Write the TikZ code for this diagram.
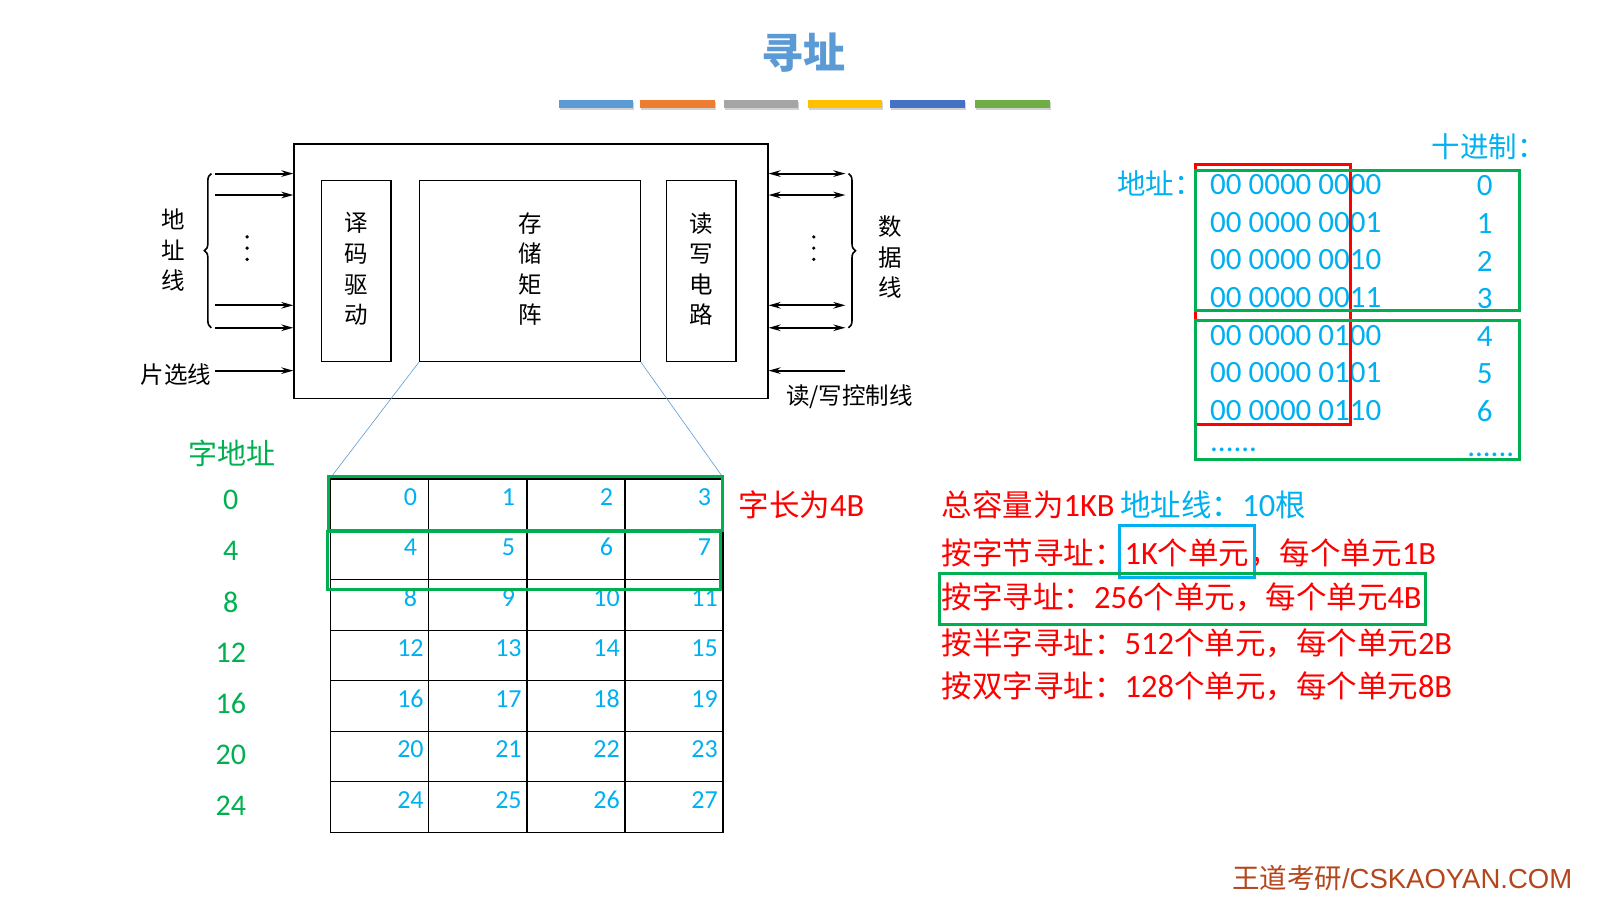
\documentclass[tikz,border=0pt]{standalone}
\usepackage{fontspec}
\setmainfont{Carlito}
\newfontfamily\cjk{Noto Sans CJK SC}
\newfontfamily\arialf{Liberation Sans}
\newfontfamily\calib{Carlito}
\usetikzlibrary{positioning,arrows.meta,fit,decorations.pathreplacing,shadows}
\definecolor{titleblue}{HTML}{5B9BD5}
\definecolor{barorange}{HTML}{ED7D31}
\definecolor{bargray}{HTML}{A5A5A5}
\definecolor{bargold}{HTML}{FFC000}
\definecolor{barblue}{HTML}{4472C4}
\definecolor{bargreen}{HTML}{70AD47}
\definecolor{sky}{HTML}{00B0F0}
\definecolor{leaf}{HTML}{00B050}
\definecolor{hot}{HTML}{FF0000}
\definecolor{brand}{HTML}{B5461B}
\newcommand\lat[1]{{\calib\fontsize{32.5}{32.5}\selectfont #1}}

\begin{document}
\begin{tikzpicture}[x=1.0211pt, y=-1.0211pt,
  blk/.style    = {draw, line width=1.4pt, inner sep=0pt},
  sig/.style    = {-{Stealth[length=12pt,width=6.5pt]}, line width=2pt},
  bisig/.style  = {{Stealth[length=12pt,width=6.5pt]}-{Stealth[length=12pt,width=6.5pt]}, line width=2pt},
  brace/.style  = {decorate, decoration={brace, amplitude=7pt}, line width=1.6pt},
  vlabel/.style = {align=center, inner sep=0pt, font=\cjk\fontsize{23.5}{30.6}\selectfont},
  bar/.style    = {inner sep=0pt, drop shadow={opacity=0.35, shadow xshift=1pt, shadow yshift=-2pt}},
  cell/.style   = {draw, line width=1.3pt, inner sep=0pt},
  cellnum/.style= {text=sky, inner sep=0pt, anchor=base, font=\fontsize{26}{26}\selectfont},
  wordnum/.style= {text=leaf, inner sep=0pt, font=\fontsize{30}{30}\selectfont},
  wordbox/.style= {draw=leaf, line width=3pt, inner sep=0pt},
  zoomline/.style = {draw=titleblue, line width=0.6pt},
  bin/.style    = {text=sky, inner sep=0pt, font=\fontsize{31}{31}\selectfont},
  say/.style    = {inner sep=0pt, anchor=west, text=hot, font=\cjk\fontsize{30.5}{30.5}\selectfont},
]

\fill[white, use as bounding box] (0,0) rectangle (1568,879);

% title and colour strip
\node[text=titleblue, font=\cjk\bfseries\fontsize{42}{42}\selectfont] (title) at (787,52) {寻址};
\foreach \x/\col [count=\i] in {547/titleblue, 627/barorange, 709/bargray, 791/bargold, 872/barblue, 955/bargreen}
  \node[bar, fill=\col, fit={(\x,98) ({\x+73},106)}] (bar\i) {};

% chip
\node[draw, line width=1.4pt, inner sep=0pt, fit={(288,141) (752,390)}] (chip) {};
\node[blk, fit={(315,177) (383,354)}] (dec) {};
\node[blk, fit={(411,177) (627,354)}] (mat) {};
\node[blk, fit={(653,177) (721,354)}] (rw) {};
\node[vlabel] (dectext) at ([yshift=2pt]dec.center) {译\\码\\驱\\动};
\node[vlabel] (mattext) at ([yshift=2pt]mat.center) {存\\储\\矩\\阵};
\node[vlabel] (rwtext) at ([yshift=2pt]rw.center) {读\\写\\电\\路};

% address and data lines
\foreach \y [count=\i] in {170,191,299,321} {
  \coordinate (ain\i) at (211,\y);
  \coordinate (dout\i) at (828,\y);
  \draw[sig] (ain\i) -- (ain\i -| chip.west);
  \draw[bisig] (chip.east |- dout\i) -- (dout\i);
}
\foreach \k in {0,1,2} {
  \fill (242,{232+11*\k}) circle (1.8);
  \fill (797,{232+11*\k}) circle (1.8);
}
\draw[brace] (207,321) -- (207,170);
\draw[brace] (831,170) -- (831,321);
\node[vlabel] (alabel) at (170,245) {地\\址\\线};
\node[vlabel] (dlabel) at (872,252) {数\\据\\线};

% select and read/write control
\coordinate (cs) at (211,363);
\coordinate (wr) at (828,363);
\draw[sig] (cs) -- (cs -| chip.west);
\draw[sig] (wr) -- (wr -| chip.east);
\node[vlabel, anchor=east] (cslabel) at (207,367) {片选线};
\node[vlabel] (wrlabel) at (832,389) {读/写控制线};

% byte grid
\foreach \r in {0,...,6}
  \foreach \c in {0,...,3} {
    \pgfmathtruncatemacro\n{4*\r+\c}
    \node[cell, fit={({324+96*\c},{469+49.43*\r}) ({420+96*\c},{518.43+49.43*\r})}] (c-\r-\c) {};
    \node[cellnum] (n-\r-\c) at ({402+96*\c},{495+49.43*\r}) {\n};
  }
\draw[zoomline] (mat.south west) -- (c-0-0.north west);
\draw[zoomline] (mat.south east) -- (c-0-3.north east);

\node[wordbox, fit={(322,467) (708,520)}] (w0) {};
\node[wordbox, fit={(321,521) (706,577)}] (w1) {};
\node[say, anchor=center] (wlen) at (785,494) {字长为\lat{4B}};

\node[text=leaf, inner sep=0pt, font=\cjk\fontsize{29}{29}\selectfont] (wtitle) at (227,444) {字地址};
\foreach \v [count=\i from 0] in {0,4,...,24}
  \node[wordnum] (wa\i) at (226,{490+49.8*\i}) {\v};

% address table
\node[text=sky, inner sep=0pt, anchor=east, font=\cjk\fontsize{28.5}{28.5}\selectfont] (dechead) at (1514,144) {十进制：};
\node[text=sky, inner sep=0pt, anchor=east, font=\cjk\fontsize{28.5}{28.5}\selectfont] (addrhead) at (1178,180) {地址：};
\foreach \b/\d [count=\i from 0] in {0000/0, 0001/1, 0010/2, 0011/3, 0100/4, 0101/5, 0110/6} {
  \node[bin, anchor=west] (b\i) at (1185,{181+36.8*\i}) {00 0000 \b};
  \node[bin] (d\i) at (1454,{182+36.8*\i}) {\d};
}
\node[bin, anchor=west] (bdots) at (1185,441) {......};
\node[bin] (ddots) at (1460,445) {......};
\node[draw=hot, line width=3pt, inner sep=0pt, fit={(1171,161) (1323,416)}] (lowbits) {};
\node[wordbox, fit={(1171,167) (1488,304)}] (g0) {};
\node[wordbox, fit={(1171,314) (1488,450)}] (g1) {};

% addressing modes
\node[say] (cap) at (922,494) {总容量为\lat{1KB}};
\node[say, text=sky] (alines) at (1097,494) {地址线：\lat{10}根};
\node[say] (m1) at (922,542) {按字节寻址：\lat{1K}个单元，每个单元\lat{1B}};
\node[say] (m2) at (922,585) {按字寻址：\lat{256}个单元，每个单元\lat{4B}};
\node[say] (m3) at (922,630) {按半字寻址：\lat{512}个单元，每个单元\lat{2B}};
\node[say] (m4) at (922,672) {按双字寻址：\lat{128}个单元，每个单元\lat{8B}};
\node[draw=sky, line width=3pt, inner sep=0pt, fit={(1096,515) (1229,566)}] (unitbox) {};
\node[wordbox, fit={(920,562) (1396,612)}] (wordmode) {};

\node[text=brand, inner sep=0pt, anchor=east, font=\fontsize{27.5}{27.5}\selectfont] (brandmark) at (1540,860)
  {{\cjk 王道考研}{\arialf /CSKAOYAN.COM}};

\end{tikzpicture}
\end{document}
